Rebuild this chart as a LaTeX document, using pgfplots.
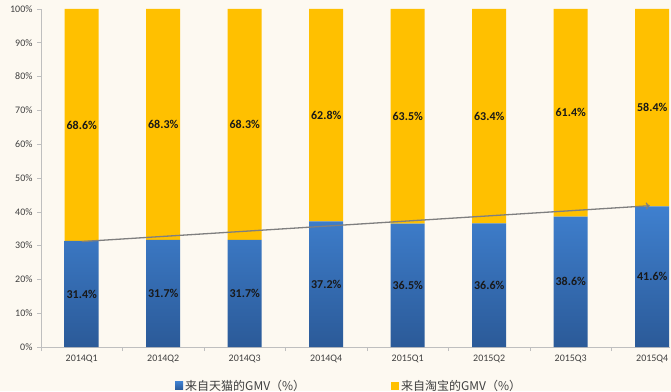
\documentclass[border=0pt]{standalone}
\usepackage{pgfplots}
\pgfplotsset{compat=1.18}
\usetikzlibrary{arrows.meta}
\usepackage{fontspec}
\setmainfont{Carlito}
\newfontfamily\cjk{Noto Sans CJK SC}
\definecolor{bg}{HTML}{FDF9F1}
\definecolor{tmbluetop}{HTML}{3F80CF}
\definecolor{tmbluebot}{HTML}{2B5A98}
\definecolor{tbyellow}{HTML}{FFC000}
\definecolor{axisgray}{HTML}{BFBFBF}
\definecolor{ticktext}{HTML}{404040}
\definecolor{linegray}{HTML}{7F7F7F}
\begin{document}
\begin{tikzpicture}[x=1pt,y=1pt]
\useasboundingbox (0,0) rectangle (671,391);
\fill[bg] (0,0) rectangle (671,391);
\pgfplotsset{common/.style={
  at={(41pt,44pt)}, anchor=south west, scale only axis,
  width=629pt, height=338pt,
  xmin=-0.5, xmax=7.218, ymin=0, ymax=100, enlargelimits=false}}
\begin{axis}[common, ybar stacked, bar width=34pt,
  axis x line*=bottom, axis y line*=left, axis line style={axisgray,-},
  ytick={0,10,...,100}, yticklabel={\pgfmathprintnumber{\tick}\%},
  xtick={0,...,7},
  xticklabels={2014Q1,2014Q2,2014Q3,2014Q4,2015Q1,2015Q2,2015Q3,2015Q4},
  major x tick style={draw=none},
  minor xtick={-0.5,0.5,...,6.5},
  tick align=outside, tick style={axisgray, line width=0.6pt},
  major tick length=4pt, minor tick length=4pt,
  ticklabel style={font=\fontsize{10}{12}\selectfont, text=ticktext},
  yticklabel style={xshift=-1pt},
  /pgf/number format/assume math mode=true,
  legend style={at={(0.49,-0.115)}, anchor=center, draw=none, fill=none,
    legend columns=2, font=\cjk\fontsize{12}{14}\selectfont, text=ticktext,
    /tikz/every even column/.append style={column sep=84pt}},
  legend image code/.code={\fill[#1] (0pt,-4pt) rectangle (8pt,4pt);},
  ]
\addplot[draw=none, top color=tmbluetop, bottom color=tmbluebot] coordinates
  {(0,31.4) (1,31.7) (2,31.7) (3,37.2) (4,36.5) (5,36.6) (6,38.6) (7,41.6)};
\addlegendentry{来自天猫的GMV（\%）}
\addplot[draw=none, fill=tbyellow] coordinates
  {(0,68.6) (1,68.3) (2,68.3) (3,62.8) (4,63.5) (5,63.4) (6,61.4) (7,58.4)};
\addlegendentry{来自淘宝的GMV（\%）}
\end{axis}
\begin{axis}[common, hide axis, clip=false]
\addplot[draw=none, mark=none, nodes near coords, point meta=explicit symbolic,
  every node near coord/.append style={anchor=center,
    font=\bfseries\fontsize{12}{14}\selectfont, text=black!90}]
  coordinates {(0,15.7)[31.4\%] (1,15.85)[31.7\%] (2,15.85)[31.7\%]
    (3,18.6)[37.2\%] (4,18.25)[36.5\%] (5,18.3)[36.6\%] (6,19.3)[38.6\%]
    (7,20.8)[41.6\%]
    (0,65.7)[68.6\%] (1,65.85)[68.3\%] (2,65.85)[68.3\%] (3,68.6)[62.8\%]
    (4,68.25)[63.5\%] (5,68.3)[63.4\%] (6,69.3)[61.4\%] (7,70.8)[58.4\%]};
\addplot[linegray, line width=1.3pt, -{To[length=4pt,width=7pt]}] coordinates
  {(0,31.2) (6.97,41.8)};
\end{axis}
\end{tikzpicture}
\end{document}
